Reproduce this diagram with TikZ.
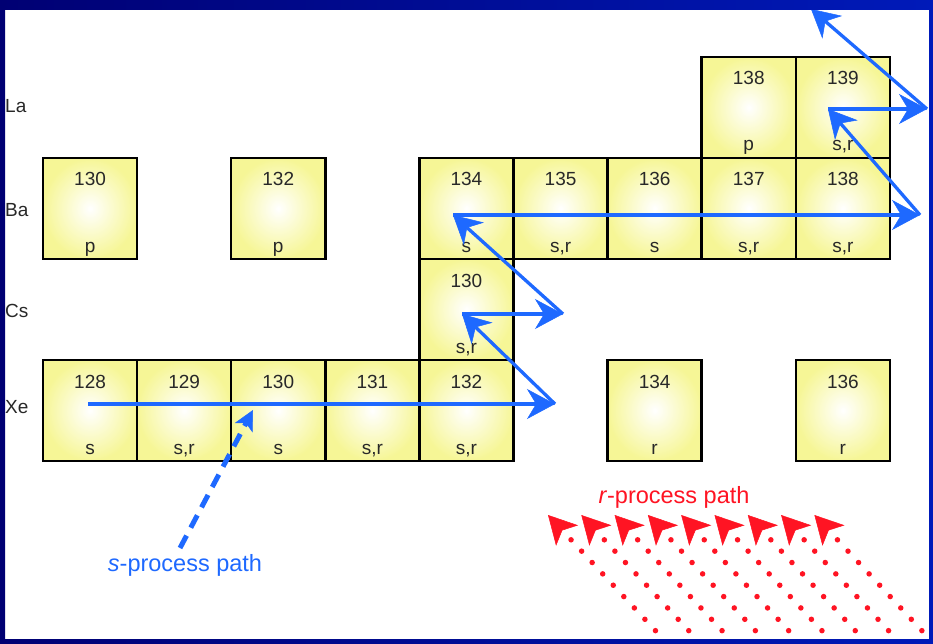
\documentclass[tikz,border=0pt]{standalone}
\usepackage{fontspec}
\setmainfont{Liberation Sans}
\usetikzlibrary{arrows.meta}
\definecolor{isoyellow}{RGB}{246,246,150}
\definecolor{pathblue}{RGB}{30,105,255}
\definecolor{pathred}{RGB}{255,20,35}
\definecolor{frameleft}{RGB}{0,0,115}
\definecolor{frameright}{RGB}{0,26,185}
\definecolor{isotext}{RGB}{40,40,40}
\begin{document}
\begin{tikzpicture}[x=1pt,y=-1pt,
  iso/.style={draw=black, line width=2.5pt, inner color=white, outer color=isoyellow,
    minimum width=94.1pt, minimum height=101pt, inner sep=0pt, outer sep=0pt},
  numlab/.style={anchor=base, yshift=-28pt, inner sep=0pt, text=isotext, font=\fontsize{19}{19}\selectfont},
  proclab/.style={anchor=base, yshift=7pt, inner sep=0pt, text=isotext, font=\fontsize{19}{19}\selectfont},
  elab/.style={anchor=west, inner sep=0pt, text=isotext, font=\fontsize{19}{19}\selectfont},
  bluearrow/.style={pathblue, line width=3.3pt, -{Stealth[length=28pt, width=30pt, inset=9pt, line width=0.5pt]}},
  sdash/.style={pathblue, line width=5pt, dash pattern=on 14pt off 9pt, -{Stealth[length=20pt, width=20pt, inset=5pt, line width=0.5pt]}},
  rdots/.style={pathred, line width=5.5pt, line cap=round, dash pattern=on 0pt off 15.5pt, -{Stealth[length=28pt, width=30pt, inset=7pt, line width=0.5pt]}},
  pathlab/.style={inner sep=0pt, font=\fontsize{23.5}{23.5}\selectfont}
]
\useasboundingbox (0,0) rectangle (933,644);
\fill[white] (0,0) rectangle (933,644);

% element labels
\node[elab] (La) at (5,106) {La};
\node[elab] (Ba) at (5,210) {Ba};
\node[elab] (Cs) at (5,311) {Cs};
\node[elab] (Xe) at (5,407) {Xe};

% La row
\node[iso, label={[numlab]north:138}, label={[proclab]south:p}] (La138) at (748.75,107.5) {};
\node[iso, label={[numlab]north:139}, label={[proclab]south:{s,r}}] (La139) at (842.85,107.5) {};
% Ba row
\node[iso, label={[numlab]north:130}, label={[proclab]south:p}] (Ba130) at (90.05,208.5) {};
\node[iso, label={[numlab]north:132}, label={[proclab]south:p}] (Ba132) at (278.25,208.5) {};
\node[iso, label={[numlab]north:134}, label={[proclab]south:s}] (Ba134) at (466.45,208.5) {};
\node[iso, label={[numlab]north:135}, label={[proclab]south:{s,r}}] (Ba135) at (560.55,208.5) {};
\node[iso, label={[numlab]north:136}, label={[proclab]south:s}] (Ba136) at (654.65,208.5) {};
\node[iso, label={[numlab]north:137}, label={[proclab]south:{s,r}}] (Ba137) at (748.75,208.5) {};
\node[iso, label={[numlab]north:138}, label={[proclab]south:{s,r}}] (Ba138) at (842.85,208.5) {};
% Cs row
\node[iso, label={[numlab]north:130}, label={[proclab]south:{s,r}}] (Cs130) at (466.45,309.5) {};
% Xe row
\node[iso, label={[numlab]north:128}, label={[proclab]south:s}] (Xe128) at (90.05,410.5) {};
\node[iso, label={[numlab]north:129}, label={[proclab]south:{s,r}}] (Xe129) at (184.15,410.5) {};
\node[iso, label={[numlab]north:130}, label={[proclab]south:s}] (Xe130) at (278.25,410.5) {};
\node[iso, label={[numlab]north:131}, label={[proclab]south:{s,r}}] (Xe131) at (372.35,410.5) {};
\node[iso, label={[numlab]north:132}, label={[proclab]south:{s,r}}] (Xe132) at (466.45,410.5) {};
\node[iso, label={[numlab]north:134}, label={[proclab]south:r}] (Xe134) at (654.65,410.5) {};
\node[iso, label={[numlab]north:136}, label={[proclab]south:r}] (Xe136) at (842.85,410.5) {};

% s-process path
\coordinate (s0) at (88,404);
\coordinate (s1) at (555,404);
\coordinate (s2) at (462,314);
\coordinate (s3) at (563,314);
\coordinate (s4) at (453,215);
\coordinate (s5) at (920,215);
\coordinate (s6) at (828,109);
\coordinate (s7) at (927,109);
\coordinate (s8) at (811,9);
\draw[bluearrow] (s0) -- (s1);
\draw[bluearrow] (s1) -- (s2);
\draw[bluearrow] (s2) -- (s3);
\draw[bluearrow] (s3) -- (s4);
\draw[bluearrow] (s4) -- (s5);
\draw[bluearrow] (s5) -- (s6);
\draw[bluearrow] (s6) -- (s7);
\draw[bluearrow] (s7) -- (s8);

\node[pathlab, text=pathblue] (slab) at (185,565) {\textit{s}-process path};
\coordinate (sd0) at (180,548);
\coordinate (sd1) at (253,410);
\draw[sdash] (sd0) -- (sd1);

% r-process path
\node[pathlab, text=pathred] (rlab) at (674,497) {\textit{r}-process path};
\foreach \k in {0,...,8} {
  \draw[rdots] ({666+33.3*\k},642) -- ({548+33.3*\k},515);
}

% frame
\shade[left color=frameleft, right color=frameright, even odd rule]
  (0,0) rectangle (933,644) (5,10) rectangle (929,639);
\end{tikzpicture}
\end{document}
